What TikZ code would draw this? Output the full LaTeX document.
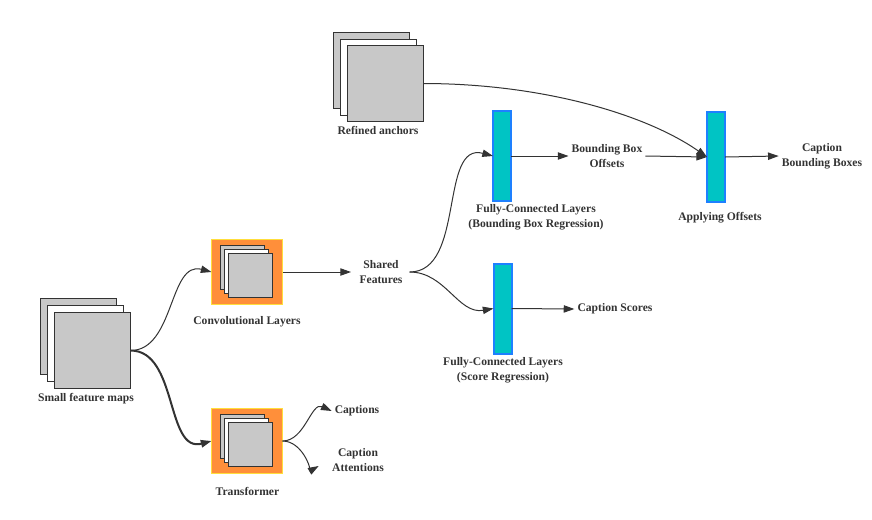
\documentclass[tikz,border=0pt]{standalone}
\usepackage{fontspec}
\setmainfont{Liberation Serif}
\usetikzlibrary{arrows.meta}

\definecolor{inkgray}{RGB}{51,51,51}
\definecolor{sheetgray}{RGB}{200,200,200}
\definecolor{layerorange}{RGB}{255,143,58}
\definecolor{layeryellow}{RGB}{255,222,60}
\definecolor{fccyan}{RGB}{0,196,196}
\definecolor{fcblue}{RGB}{30,128,255}

\tikzset{every picture/.style={line width=0.75pt},
  sheet/.style={draw=inkgray, fill=sheetgray, inner sep=0pt, outer sep=0pt, minimum width=57pt, minimum height=57pt},
  minisheet/.style={sheet, minimum width=33pt, minimum height=33pt},
  layerbox/.style={draw=layeryellow, fill=layerorange, inner sep=0pt, outer sep=0pt, minimum width=53.25pt, minimum height=48.75pt},
  fcbar/.style={draw=fcblue, fill=fccyan, line width=1.5pt, inner sep=0pt, outer sep=0pt, minimum width=13.5pt, minimum height=67.5pt},
  lbl/.style={font=\fontsize{8.7}{11.2}\selectfont\bfseries, text=inkgray, align=center, inner sep=2pt},
  flow/.style={draw=inkgray, -{Triangle[length=8pt,width=5.5pt]}}}

\begin{document}
\begin{tikzpicture}[x=0.75pt,y=0.75pt,yscale=-1,xscale=1]
\useasboundingbox (0,0) rectangle (872,519);

%Shape: Square stack (small feature maps)
\node[sheet] (smap1) at (78.5,336.5) {};
\node[sheet, fill=white] (smap2) at (85.5,343.5) {};
\node[sheet] (smap3) at (92.5,350.5) {};
\node[lbl] (smaplbl) at (86,399) {Small feature maps};

%Shape: Convolutional layers
\node[layerbox] (conv) at (247,272) {};
\node[minisheet] (conv1) at (242.5,267.5) {};
\node[minisheet, fill=white] (conv2) at (246.5,271.5) {};
\node[minisheet] (conv3) at (250.5,275.5) {};
\node[lbl] (convlbl) at (247,322) {Convolutional Layers};

%Shape: Transformer
\node[layerbox] (trf) at (247,441) {};
\node[minisheet] (trf1) at (242.5,436.5) {};
\node[minisheet, fill=white] (trf2) at (246.5,440.5) {};
\node[minisheet] (trf3) at (250.5,444.5) {};
\node[lbl] (trflbl) at (247.5,491) {Transformer};

%Shape: Square stack (refined anchors)
\node[sheet] (anch1) at (371,70.5) {};
\node[sheet, fill=white] (anch2) at (378,77) {};
\node[sheet] (anch3) at (385,83.5) {};
\node[lbl] (anchlbl) at (378,130) {Refined anchors};

%Shape: Fully-connected bars
\node[fcbar] (fcbox) at (502,156) {};
\node[lbl] (fcboxlbl) at (536,217.5) {Fully-Connected Layers\\(Bounding Box Regression)};
\node[fcbar] (fcscore) at (502.5,308.5) {};
\node[lbl] (fcscorelbl) at (503,370.5) {Fully-Connected Layers\\(Score Regression)};
\node[fcbar] (apply) at (716,157) {};
\node[lbl] (applylbl) at (720,218) {Applying Offsets};

%Text nodes
\node[lbl] (shared) at (381,272) {Shared\\Features};
\node[lbl] (bboff) at (607,156) {Bounding Box\\Offsets};
\node[lbl] (capbox) at (822,156) {Caption\\Bounding Boxes};
\node[lbl] (capscore) at (615,309) {Caption Scores};
\node[lbl] (captions) at (357,411) {Captions};
\node[lbl] (capatt) at (358,460) {Caption\\Attentions};

%Curve Lines
\draw[flow] (smap3.east) to[out=0,in=195] (conv.west);
\draw[flow, line width=1.5pt] (smap3.east) to[out=0,in=165] (trf.west);
\draw[flow] (shared.east) ++(4,0) to[out=0,in=195] (fcbox.west);
\draw[flow] (shared.east) ++(4,0) to[out=0,in=170] (fcscore.west);
\draw[flow] (anch3.east) .. controls +(116,0) and +(-63,-44) .. (apply.west);
\draw[flow] (trf.east) to[out=0,in=205] (captions.west);
\draw[flow, shorten >=9pt] (trf.east) to[out=0,in=150] (capatt.west);

%Straight Lines
\draw[flow, shorten >=4pt] (conv.east) -- (shared.west);
\draw[flow] (fcbox.east) -- (bboff.west);
\draw[flow] (bboff.east) -- (apply.west);
\draw[flow] (apply.east) -- (capbox.west);
\draw[flow] (fcscore.east) -- (capscore.west);

\end{tikzpicture}
\end{document}
